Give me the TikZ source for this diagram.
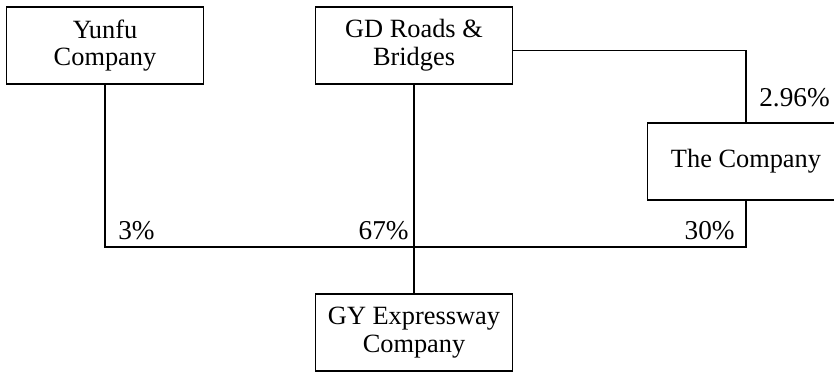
\documentclass[tikz,border=0pt]{standalone}
\usepackage{fontspec}
\setmainfont{Liberation Serif}
\usetikzlibrary{positioning}

\begin{document}
\begin{tikzpicture}[
  box/.style={draw,line width=0.6pt,align=center,minimum width=3.93cm,minimum height=1.54cm,inner sep=0pt,font=\fontsize{15}{15.8}\selectfont},
  link/.style={line width=0.6pt},
  pct/.style={font=\fontsize{15.5}{16}\selectfont,inner sep=0pt}]
\useasboundingbox (0,0) rectangle (16.68,7.44);
\node[box] (yunfu) at (2.10,6.53) {Yunfu\\Company};
\node[box] (gdrb) at (8.28,6.53) {GD Roads \&\\Bridges};
\node[box] (thecomp) at (14.92,4.21) {The Company};
\node[box] (gyexp) at (8.28,0.79) {GY Expressway\\Company};
\coordinate (jy) at (yunfu.south |- 0,2.50);
\coordinate (jg) at (gdrb.south |- 0,2.50);
\coordinate (jc) at (thecomp.south |- 0,2.50);
\coordinate (kc) at ([yshift=-1mm]gdrb.east -| thecomp.north);
\draw[link] (yunfu.south)--(jy)--(jc)--(thecomp.south);
\draw[link] (gdrb.south)--(gyexp.north);
\draw[link] ([yshift=-1mm]gdrb.east)--(kc)--(thecomp.north);
\node[pct,anchor=south west] at ([xshift=2.6mm,yshift=1.4mm]jy) {3\%};
\node[pct,anchor=south east] at ([xshift=-1mm,yshift=1.4mm]jg) {67\%};
\node[pct,anchor=south east] at ([xshift=-2.2mm,yshift=1.4mm]jc) {30\%};
\node[pct,anchor=south west] at ([xshift=2.6mm,yshift=3mm]thecomp.north) {2.96\%};
\end{tikzpicture}
\end{document}
